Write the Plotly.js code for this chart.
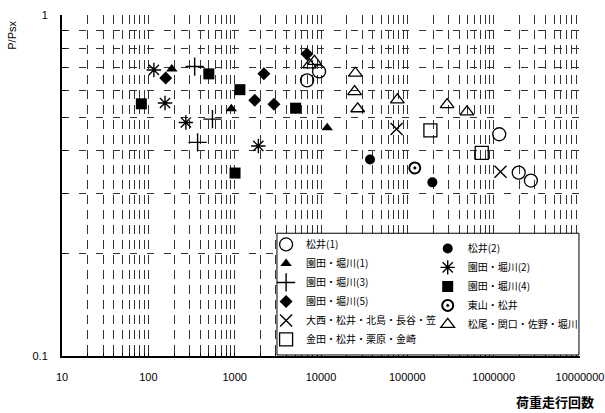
<!DOCTYPE html>
<html>
<head>
<meta charset="utf-8">
<script src="https://cdn.plot.ly/plotly-3.0.1.min.js"></script>
<style>html,body{margin:0;padding:0;background:#fff}#chart{width:605px;height:413px}</style>
</head>
<body>
<div id="chart"></div>
<script>
// ---- data ----
const seriesNames = ['松井(1)', '松井(2)', '園田・堀川(1)', '園田・堀川(2)', '園田・堀川(3)', '園田・堀川(4)', '園田・堀川(5)', '東山・松井', '大西・松井・北島・長谷・笠', '松尾・関口・佐野・堀川', '金田・松井・栗原・金崎'];

const matsui1X = [6900, 9500, 1160000, 1950000, 2700000];
const matsui1Y = [0.643, 0.683, 0.447, 0.345, 0.327];
const matsui2X = [37000, 195000];
const matsui2Y = [0.377, 0.323];
const sonoda1X = [187, 914, 11800];
const sonoda1Y = [0.695, 0.531, 0.467];
const sonoda2X = [116, 156, 272, 1880];
const sonoda2Y = [0.69, 0.552, 0.484, 0.413];
const sonoda3X = [344, 553, 372];
const sonoda3Y = [0.706, 0.495, 0.423];
const sonoda4X = [83, 502, 1150, 5080, 1010];
const sonoda4Y = [0.549, 0.672, 0.604, 0.533, 0.344];
const sonoda5X = [159, 2180, 6860, 1710, 2850];
const sonoda5Y = [0.653, 0.672, 0.769, 0.562, 0.547];
const higashiX = [122000];
const higashiY = [0.356];
const onishiX = [75000, 1200000];
const onishiY = [0.463, 0.347];
const matsuoX = [7360, 8400, 25000, 24500, 26600, 76600, 289000, 490000];
const matsuoY = [0.714, 0.731, 0.675, 0.596, 0.531, 0.564, 0.546, 0.520];
const kanedaX = [185000, 728000];
const kanedaY = [0.459, 0.394];

const xTickLabels = ['10', '100', '1000', '10000', '100000', '1000000', '10000000'];
const yTickLabels = ['0.1', '1'];

// ---- axis tick positions (decades with minor grid positions) ----
const xTickVals = [], xTickText = [];
for (let e = 1; e <= 7; e++) {
  const base = Math.pow(10, e);
  xTickVals.push(base); xTickText.push(xTickLabels[e - 1]);
  if (e < 7) for (let m = 2; m <= 9; m++) { xTickVals.push(m * base); xTickText.push(''); }
}
const yTickVals = [0.1], yTickText = [yTickLabels[0]];
for (let m = 2; m <= 9; m++) { yTickVals.push(m / 10); yTickText.push(''); }
yTickVals.push(1); yTickText.push(yTickLabels[1]);

function tr(name, x, y, marker, legend) {
  return { type: 'scatter', mode: 'markers', name: name, x: x, y: y, marker: marker, legend: legend, cliponaxis: false };
}
const blk = '#000';
const traces = [
  tr(seriesNames[0], matsui1X, matsui1Y, { symbol: 'circle-open', size: 13, color: blk, line: { width: 1.3, color: blk } }, 'legend'),
  tr(seriesNames[2], sonoda1X, sonoda1Y, { symbol: 'triangle-up', size: 10, color: blk }, 'legend'),
  tr(seriesNames[4], sonoda3X, sonoda3Y, { symbol: 'cross-thin-open', size: 13, color: blk, line: { width: 1.4, color: blk } }, 'legend'),
  tr(seriesNames[6], sonoda5X, sonoda5Y, { symbol: 'diamond', size: 10, color: blk }, 'legend'),
  tr(seriesNames[8], onishiX, onishiY, { symbol: 'x-thin-open', size: 12, color: blk, line: { width: 1.4, color: blk } }, 'legend'),
  tr(seriesNames[10], kanedaX, kanedaY, { symbol: 'square-open', size: 13, color: blk, line: { width: 1.3, color: blk } }, 'legend'),
  tr(seriesNames[1], matsui2X, matsui2Y, { symbol: 'circle', size: 10, color: blk }, 'legend2'),
  tr(seriesNames[3], sonoda2X, sonoda2Y, { symbol: 'asterisk-open', size: 12, color: blk, line: { width: 1.4, color: blk } }, 'legend2'),
  tr(seriesNames[5], sonoda4X, sonoda4Y, { symbol: 'square', size: 11, color: blk }, 'legend2'),
  tr(seriesNames[7], higashiX, higashiY, { symbol: 'circle-open-dot', size: 11, color: blk, line: { width: 2, color: blk } }, 'legend2'),
  tr(seriesNames[9], matsuoX, matsuoY, { symbol: 'triangle-up-open', size: 12, color: blk, line: { width: 1.3, color: blk } }, 'legend2')
];

const cjk = '"Noto Sans CJK JP", "Noto Sans", sans-serif';
const latin = '"Liberation Sans", Arial, sans-serif';
const legendFont = { family: cjk, size: 10, color: '#000' };

const layout = {
  width: 605, height: 413,
  margin: { l: 62, r: 25, t: 15, b: 57 },
  paper_bgcolor: '#fff', plot_bgcolor: '#fff',
  showlegend: true,
  font: { family: latin, size: 11, color: '#000' },
  xaxis: {
    type: 'log', range: [1, 7], tickmode: 'array', tickvals: xTickVals, ticktext: xTickText,
    showgrid: true, gridcolor: '#333', gridwidth: 1, griddash: '9px,6px',
    showline: true, linecolor: '#000', linewidth: 2, ticks: 'inside', ticklen: 3, tickcolor: '#000', tickwidth: 1,
    ticklabelstandoff: 10, ticklabeloverflow: 'allow',
    tickfont: { family: latin, size: 11, color: '#000' }, zeroline: false
  },
  yaxis: {
    type: 'log', range: [-1, 0], tickmode: 'array', tickvals: yTickVals, ticktext: yTickText,
    showgrid: true, gridcolor: '#333', gridwidth: 1, griddash: '7px,10px',
    showline: true, linecolor: '#000', linewidth: 2, ticks: 'inside', ticklen: 4, tickcolor: '#000', tickwidth: 1,
    ticklabelstandoff: 10, ticklabeloverflow: 'allow',
    tickfont: { family: latin, size: 11, color: '#000' }, zeroline: false
  },
  legend: {
    x: 0.394, xanchor: 'left', y: 0.006, yanchor: 'bottom',
    bgcolor: 'rgba(0,0,0,0)', borderwidth: 0, font: legendFont, traceorder: 'normal'
  },
  legend2: {
    x: 0.706, xanchor: 'left', y: 0.358, yanchor: 'top',
    bgcolor: 'rgba(0,0,0,0)', borderwidth: 0, font: legendFont, traceorder: 'normal'
  },
  shapes: [{
    type: 'rect', xref: 'paper', yref: 'paper', x0: 0.415, x1: 0.998, y0: 0.003, y1: 0.36,
    fillcolor: '#fff', line: { color: '#000', width: 1 }, layer: 'above'
  }],
  annotations: [
    { text: '荷重走行回数', xref: 'paper', yref: 'paper', x: 1.03, y: -0.133, xanchor: 'right', yanchor: 'middle',
      showarrow: false, font: { family: cjk, size: 13, color: '#000', weight: 'bold' } },
    { text: 'P/Psx', xref: 'paper', yref: 'paper', x: -0.096, y: 0.94, xanchor: 'center', yanchor: 'middle',
      textangle: -90, showarrow: false, font: { family: latin, size: 11, color: '#000' } }
  ]
};

Plotly.newPlot('chart', traces, layout, { displayModeBar: false, staticPlot: true });
</script>
</body>
</html>
